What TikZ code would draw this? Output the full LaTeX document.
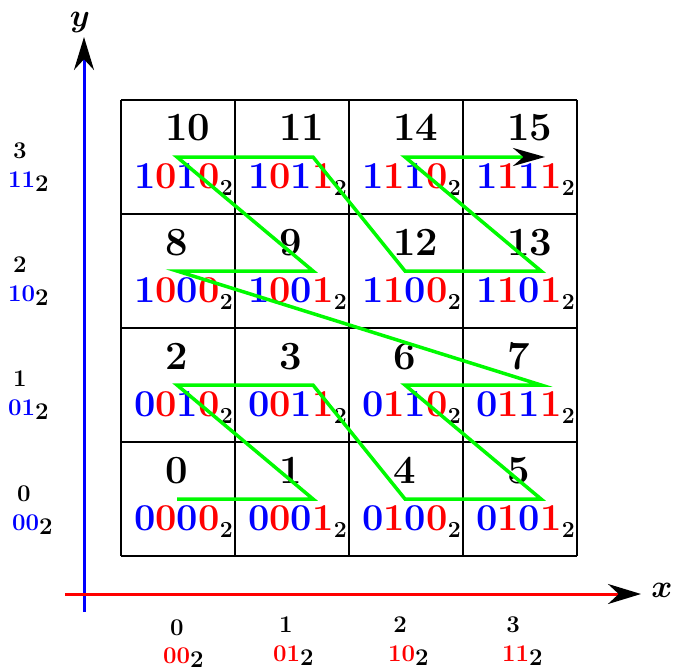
\documentclass[tikz,border=0pt]{standalone}
\usepackage{fix-cm}
\usetikzlibrary{arrows.meta}
\definecolor{zgreen}{RGB}{0,250,0}
\newcommand\bigbin[4]{{\color{blue}#1}{\color{red}#2}{\color{blue}#3}{\color{red}#4}\raisebox{-7pt}{\fontsize{23}{24}\selectfont 2}}
\newcommand\smallbin[3]{{\color{#1}#2#3}\raisebox{-4pt}{2}}
\begin{document}
\begin{tikzpicture}[x=1pt,y=-1pt,
  gridline/.style={line width=1.4pt},
  decnum/.style={anchor=base west,inner sep=0pt,font=\fontsize{40}{42}\selectfont\bfseries},
  binnum/.style={anchor=base west,inner sep=0pt,font=\fontsize{38}{40}\selectfont\bfseries},
  axnum/.style={anchor=base,inner sep=0pt,font=\fontsize{24}{26}\selectfont\bfseries},
  axbin/.style={anchor=base west,inner sep=0pt,font=\fontsize{24}{26}\selectfont\bfseries},
  axlabel/.style={inner sep=0pt,font=\fontsize{32}{34}\selectfont\boldmath},
  zpath/.style={zgreen,line width=3.5pt,line join=miter},
]
\path[use as bounding box] (0,0) rectangle (676,671);
% grid
\foreach \i in {0,...,4}{
  \coordinate (vt\i) at ({121+114*\i},100);
  \coordinate (vb\i) at ({121+114*\i},556);
  \coordinate (hl\i) at (121,{100+114*\i});
  \coordinate (hr\i) at (577,{100+114*\i});
  \draw[gridline] (vt\i) -- (vb\i);
  \draw[gridline] (hl\i) -- (hr\i);
}
% cells
\foreach \n/\c/\r/\ba/\bb/\bc/\bd in {
  0/0/0/0/0/0/0, 1/1/0/0/0/0/1, 2/0/1/0/0/1/0, 3/1/1/0/0/1/1,
  4/2/0/0/1/0/0, 5/3/0/0/1/0/1, 6/2/1/0/1/1/0, 7/3/1/0/1/1/1,
  8/0/2/1/0/0/0, 9/1/2/1/0/0/1, 10/0/3/1/0/1/0, 11/1/3/1/0/1/1,
  12/2/2/1/1/0/0, 13/3/2/1/1/0/1, 14/2/3/1/1/1/0, 15/3/3/1/1/1/1}{
  \node[decnum] (d\n) at ({121+114*\c+44},{442-114*\r+41}) {\n};
  \node[binnum] (b\n) at ({121+114*\c+13},{442-114*\r+88}) {\bigbin{\ba}{\bb}{\bc}{\bd}};
  \coordinate (p\n) at ({121+114*\c+56+22*mod(\c,2)},{499-114*\r});
}
\coordinate (pend) at (545,157);
% Z-order path
\draw[zpath,-{Stealth[color=black,length=32pt,width=18pt]}]
  (p0) -- (p1) -- (p2) -- (p3) -- (p4) -- (p5) -- (p6) -- (p7) -- (p8) -- (p9)
  -- (p10) -- (p11) -- (p12) -- (p13) -- (p14) -- (pend);
% axes
\coordinate (yb) at (84,612);
\coordinate (yt) at (84,37);
\coordinate (xl) at (65,594);
\coordinate (xr) at (641,594);
\draw[blue,line width=3pt,-{Stealth[color=black,length=33pt,width=20pt]}] (yb) -- (yt);
\draw[red,line width=3pt,-{Stealth[color=black,length=33pt,width=20pt]}] (xl) -- (xr);
\node[axlabel] (xlab) at (662,590) {$x$};
\node[axlabel] (ylab) at (80,23) {$y$};
% left labels
\node[axnum] (ln3) at (20,158) {3};
\node[axbin] (lb3) at (8,187) {\smallbin{blue}{1}{1}};
\node[axnum] (ln2) at (20,272) {2};
\node[axbin] (lb2) at (8,301) {\smallbin{blue}{1}{0}};
\node[axnum] (ln1) at (20,386) {1};
\node[axbin] (lb1) at (8,415) {\smallbin{blue}{0}{1}};
\node[axnum] (ln0) at (24,501) {0};
\node[axbin] (lb0) at (12,530) {\smallbin{blue}{0}{0}};
% bottom labels
\node[axnum] (bn0) at (177,635) {0};
\node[axbin] (bb0) at (163,663) {\smallbin{red}{0}{0}};
\node[axnum] (bn1) at (286,632) {1};
\node[axbin] (bb1) at (273,661) {\smallbin{red}{0}{1}};
\node[axnum] (bn2) at (400,632) {2};
\node[axbin] (bb2) at (388,661) {\smallbin{red}{1}{0}};
\node[axnum] (bn3) at (513,632) {3};
\node[axbin] (bb3) at (502,661) {\smallbin{red}{1}{1}};
\end{tikzpicture}
\end{document}
